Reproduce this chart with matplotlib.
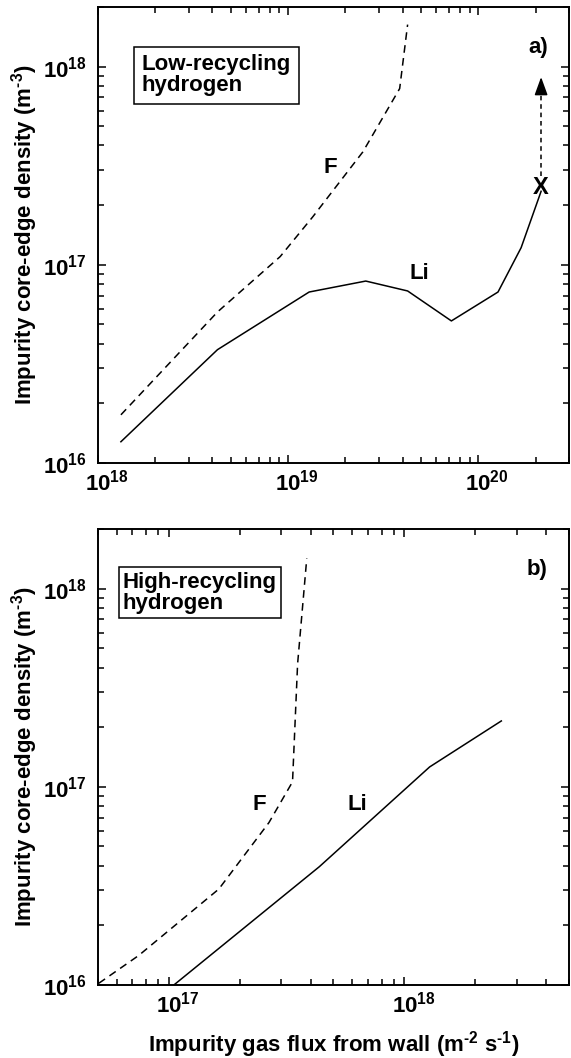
import numpy as np
import matplotlib
matplotlib.use("Agg")
import matplotlib.pyplot as plt
import matplotlib.transforms as mtransforms
from matplotlib.ticker import LogLocator, LogFormatterSciNotation, NullFormatter

plt.rcParams['font.family'] = ['Liberation Sans', 'DejaVu Sans']
plt.rcParams['font.weight'] = 'bold'
plt.rcParams['mathtext.fontset'] = 'custom'
plt.rcParams['mathtext.bf'] = 'Liberation Sans:bold'
plt.rcParams['mathtext.rm'] = 'Liberation Sans:bold'
plt.rcParams['mathtext.it'] = 'Liberation Sans:bold'
plt.rcParams['mathtext.default'] = 'bf'

# ---- panel a: low-recycling hydrogen ----
a_li_flux = [1.32e18, 4.25e18, 1.29e19, 2.56e19, 4.25e19, 7.22e19, 1.27e20, 1.68e20, 2.14e20]
a_li_dens = [1.28e16, 3.73e16, 7.29e16, 8.28e16, 7.38e16, 5.21e16, 7.29e16, 1.22e17, 2.35e17]
a_f_flux = [1.32e18, 4.25e18, 9.08e18, 1.35e19, 2.47e19, 3.86e19, 4.25e19]
a_f_dens = [1.75e16, 5.78e16, 1.10e17, 1.75e17, 3.71e17, 7.75e17, 1.63e18]
a_arrow_x = 2.14e20
a_arrow_y = [2.80e17, 9.15e17]

# ---- panel b: high-recycling hydrogen ----
b_li_flux = [1.05e17, 4.35e17, 1.28e18, 2.58e18]
b_li_dens = [1.00e16, 3.95e16, 1.26e17, 2.15e17]
b_f_flux = [5.04e16, 7.45e16, 1.10e17, 1.63e17, 2.66e17, 3.35e17, 3.52e17, 3.85e17]
b_f_dens = [1.02e16, 1.41e16, 2.07e16, 3.05e16, 6.60e16, 1.06e17, 4.17e17, 1.42e18]

ylab = r'Impurity core-edge density (m$^{\text{-}3}$)'
xlab = r'Impurity gas flux from wall (m$^{\text{-}2}$ s$^{\text{-}1}$)'
FS = 16

fig = plt.figure(figsize=(5.71, 10.58), dpi=100)
ax1 = fig.add_axes([0.1716, 0.5624, 0.8249, 0.4310])
ax2 = fig.add_axes([0.1716, 0.0690, 0.8249, 0.4310])


def style(ax, xlim, ylim, xmajors):
    ax.set_xscale('log')
    ax.set_yscale('log')
    ax.set_xlim(*xlim)
    ax.set_ylim(*ylim)
    ax.set_xticks(xmajors)
    ax.xaxis.set_major_formatter(LogFormatterSciNotation())
    ax.xaxis.set_minor_locator(LogLocator(base=10, subs=np.arange(2, 10)))
    ax.xaxis.set_minor_formatter(NullFormatter())
    ax.set_yticks([1e16, 1e17, 1e18])
    ax.yaxis.set_minor_locator(LogLocator(base=10, subs=np.arange(2, 10)))
    ax.yaxis.set_minor_formatter(NullFormatter())
    ax.tick_params(which='both', direction='in', top=True, right=True, width=1.1)
    ax.tick_params(which='major', length=6, labelsize=FS, pad=5)
    ax.tick_params(axis='y', which='major', pad=8)
    ax.tick_params(which='minor', length=4)
    for s in ax.spines.values():
        s.set_linewidth(1.4)
    ax.set_ylabel(ylab, fontsize=FS, fontweight='bold', labelpad=2)
    # tick labels sit a little right of the tick, base "10" centred on it
    off = mtransforms.ScaledTranslation(9 / 100, 0, fig.dpi_scale_trans)
    for lab in ax.get_xticklabels():
        lab.set_transform(lab.get_transform() + off)


style(ax1, (1e18, 3e20), (1e16, 2e18), [1e18, 1e19, 1e20])
style(ax2, (5e16, 5e18), (1e16, 2e18), [1e17, 1e18])

ax1.plot(a_li_flux, a_li_dens, color='black', lw=1.1)
ax1.plot(a_f_flux, a_f_dens, color='black', lw=1.1, dashes=(5, 3.5))
ax1.plot([a_arrow_x, a_arrow_x], [a_arrow_y[0], a_arrow_y[1] * 0.88], color='black',
         lw=1.1, dashes=(3, 2.5))
ax1.annotate('', xy=(a_arrow_x, a_arrow_y[1]), xytext=(a_arrow_x, a_arrow_y[1] * 0.8),
             arrowprops=dict(arrowstyle='-|>,head_width=0.4,head_length=1.1',
                             color='black', lw=1.1))
ax1.text(a_li_flux[-1], a_li_dens[-1] * 1.04, 'X', fontsize=17, fontweight='bold',
         ha='center', va='center')
ax1.text(1.66e19, 3.1e17, 'F', fontsize=FS, fontweight='bold', ha='center', va='center')
ax1.text(4.9e19, 9.0e16, 'Li', fontsize=FS, fontweight='bold', ha='center', va='center')
ax1.text(0.955, 0.912, 'a)', transform=ax1.transAxes, fontsize=FS, fontweight='bold',
         ha='right', va='center')
ax1.text(0.093, 0.85, 'Low-recycling\nhydrogen', transform=ax1.transAxes, fontsize=FS,
         fontweight='bold', ha='left', va='center', linespacing=1.0,
         bbox=dict(boxstyle='square,pad=0.35', fc='white', ec='black', lw=1.1))

ax2.plot(b_li_flux, b_li_dens, color='black', lw=1.1)
ax2.plot(b_f_flux, b_f_dens, color='black', lw=1.1, dashes=(5, 3.5))
ax2.text(2.41e17, 8.1e16, 'F', fontsize=FS, fontweight='bold', ha='center', va='center')
ax2.text(6.3e17, 8.1e16, 'Li', fontsize=FS, fontweight='bold', ha='center', va='center')
ax2.text(0.955, 0.911, 'b)', transform=ax2.transAxes, fontsize=FS, fontweight='bold',
         ha='right', va='center')
ax2.text(0.053, 0.86, 'High-recycling\nhydrogen', transform=ax2.transAxes, fontsize=FS,
         fontweight='bold', ha='left', va='center', linespacing=1.0,
         bbox=dict(boxstyle='square,pad=0.2', fc='white', ec='black', lw=1.1))
ax2.set_xlabel(xlab, fontsize=FS, fontweight='bold', labelpad=8)

fig.savefig('out.png', dpi=100)
